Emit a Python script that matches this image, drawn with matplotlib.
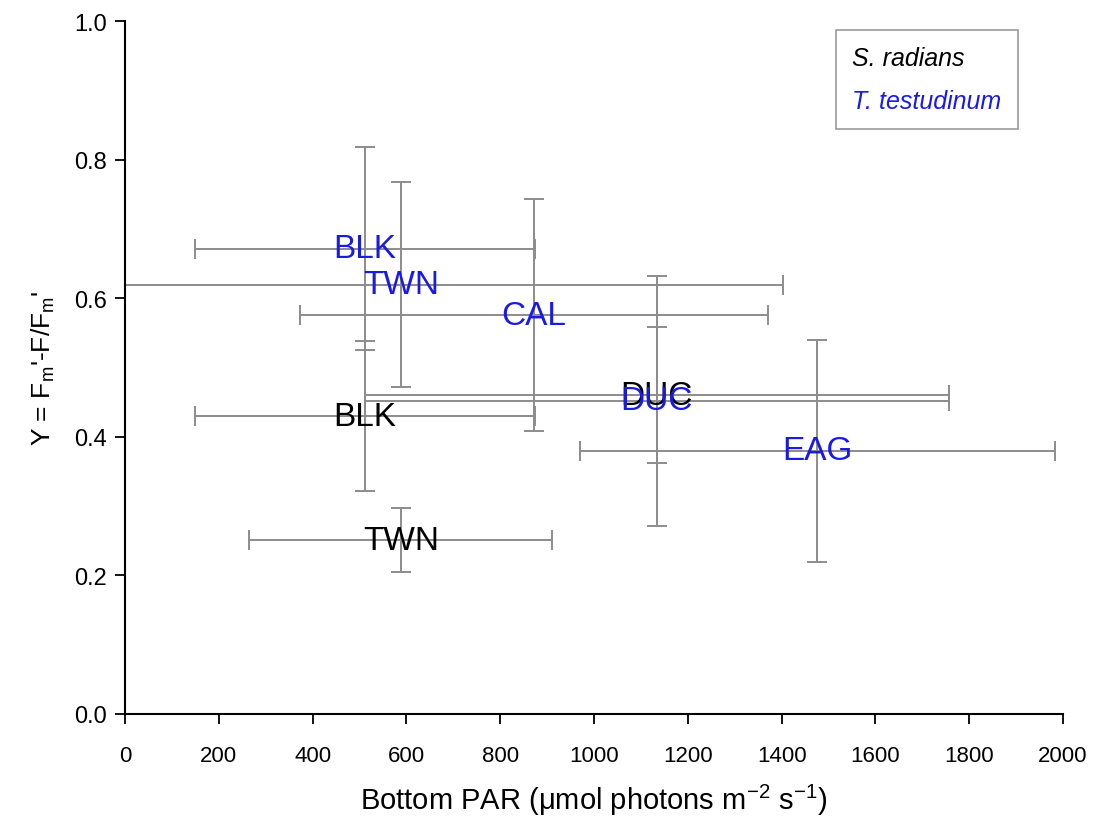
import matplotlib
matplotlib.use("Agg")
import matplotlib.pyplot as plt
from matplotlib.lines import Line2D

# S. radians (black)
sites_sr = ["BLK", "TWN", "DUC"]
par_sr = [512, 588, 1134]
par_sr_err = [362, 323, 622]
y_sr = [0.430, 0.251, 0.460]
y_sr_err = [0.108, 0.046, 0.098]

# T. testudinum (blue)
sites_tt = ["BLK", "TWN", "CAL", "DUC", "EAG"]
par_tt = [512, 588, 872, 1134, 1476]
par_tt_err = [362, 815, 500, 622, 506]
y_tt = [0.672, 0.620, 0.576, 0.452, 0.380]
y_tt_err = [0.146, 0.148, 0.167, 0.181, 0.160]

x_ticks = [0, 200, 400, 600, 800, 1000, 1200, 1400, 1600, 1800, 2000]
y_ticks = [0.0, 0.2, 0.4, 0.6, 0.8, 1.0]

blue = "#1a1ae6"
err_color = "#8c8c8c"

plt.rcParams["font.family"] = ["Liberation Sans", "DejaVu Sans"]

fig = plt.figure(figsize=(10.97, 8.28), dpi=100)
ax = fig.add_axes([0.114, 0.1365, 0.855, 0.8365])

for xs, ys, xe, ye in [(par_sr, y_sr, par_sr_err, y_sr_err),
                       (par_tt, y_tt, par_tt_err, y_tt_err)]:
    ax.errorbar(xs, ys, xerr=xe, yerr=ye, fmt="none", ecolor=err_color,
                elinewidth=1.4, capsize=7, capthick=1.4)

for s, x, y in zip(sites_sr, par_sr, y_sr):
    ax.text(x, y, s, color="black", fontsize=24, ha="center", va="center")
for s, x, y in zip(sites_tt, par_tt, y_tt):
    ax.text(x, y, s, color=blue, fontsize=24, ha="center", va="center")

ax.set_xlim(0, 2000)
ax.set_ylim(0, 1.0)
ax.set_xticks(x_ticks)
ax.set_yticks(y_ticks)
ax.set_yticklabels(["%.1f" % v for v in y_ticks])
ax.spines["top"].set_visible(False)
ax.spines["right"].set_visible(False)
for sp in ["left", "bottom"]:
    ax.spines[sp].set_linewidth(1.5)
ax.tick_params(direction="out", length=7, width=1.3, pad=6)
ax.tick_params(axis="y", labelsize=17)
ax.tick_params(axis="x", labelsize=16, pad=15)

ax.set_xlabel(r"Bottom PAR ($\mathregular{\mu}$mol photons m$^{\mathregular{-2}}$ s$^{\mathregular{-1}}$)",
              fontsize=21, labelpad=12)
ax.set_ylabel(r"Y = F$_\mathregular{m}$'-F/F$_\mathregular{m}$'", fontsize=19, labelpad=12)

handles = [Line2D([], [], linestyle="none"), Line2D([], [], linestyle="none")]
leg = ax.legend(handles, ["S. radians", "T. testudinum"], loc="upper right",
                bbox_to_anchor=(0.952, 0.988), handlelength=0, handletextpad=0,
                labelcolor=["black", blue], prop={"style": "italic", "size": 18},
                frameon=True, fancybox=False, edgecolor="#808080",
                borderpad=0.65, labelspacing=0.75, borderaxespad=0)
leg.get_frame().set_linewidth(1.2)

fig.savefig("out.png", dpi=100)
